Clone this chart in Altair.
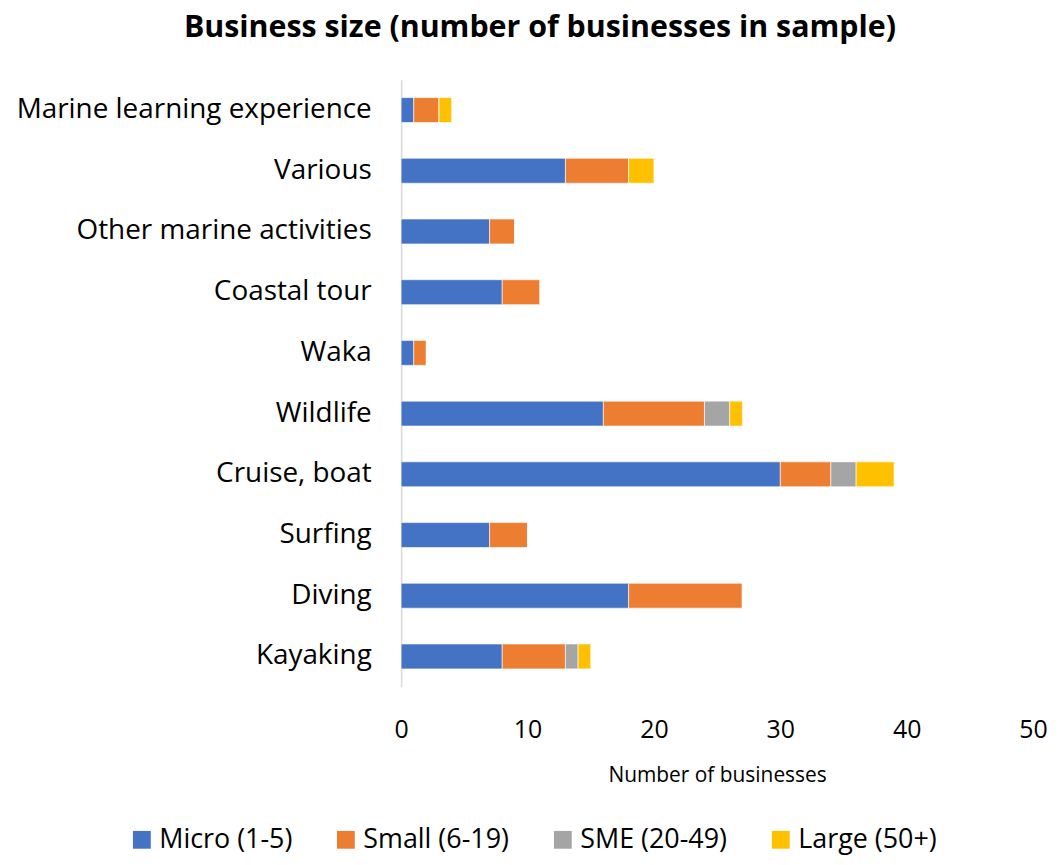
import altair as alt
import pandas as pd

categories = ["Marine learning experience", "Various", "Other marine activities",
              "Coastal tour", "Waka", "Wildlife", "Cruise, boat", "Surfing",
              "Diving", "Kayaking"]
sizes = ["Micro (1-5)", "Small (6-19)", "SME (20-49)", "Large (50+)"]
micro = [1, 13, 7, 8, 1, 16, 30, 7, 18, 8]
small = [2, 5, 2, 3, 1, 8, 4, 3, 9, 5]
sme = [0, 0, 0, 0, 0, 2, 2, 0, 0, 1]
large = [1, 2, 0, 0, 0, 1, 3, 0, 0, 1]
colors = ["#4472C4", "#ED7D31", "#A5A5A5", "#FFC000"]

rows = []
for series, name, k in [(micro, sizes[0], 0), (small, sizes[1], 1), (sme, sizes[2], 2), (large, sizes[3], 3)]:
    for c, v in zip(categories, series):
        rows.append({"Activity": c, "Size": name, "Count": v, "order": k})
df = pd.DataFrame(rows)

font = "Open Sans"

chart = alt.Chart(df).mark_bar(stroke="white", strokeWidth=0.6).encode(
    y=alt.Y("Activity:N", sort=categories,
            scale=alt.Scale(paddingInner=0.59, paddingOuter=0.295),
            axis=alt.Axis(title=None, labelFontSize=28, labelColor="#000000",
                          labelPadding=30, labelLimit=500, ticks=False,
                          domainColor="#D9D9D9", domainWidth=1.5,
                          labelFont=font)),
    x=alt.X("Count:Q", stack="zero",
            scale=alt.Scale(domain=[0, 50], nice=False),
            axis=alt.Axis(title="Number of businesses", values=[0, 10, 20, 30, 40, 50],
                          grid=False, domain=False, ticks=False,
                          labelFontSize=25, labelColor="#000000", labelPadding=31,
                          titleFontSize=21, titleFontWeight="normal", titleColor="#000000",
                          titlePadding=22, labelFont=font, titleFont=font,
                          labelOverlap=False, labelFlush=False)),
    color=alt.Color("Size:N", sort=sizes,
                    scale=alt.Scale(domain=sizes, range=colors),
                    legend=alt.Legend(title=None, orient="none", direction="horizontal",
                                      legendX=-274, legendY=750,
                                      symbolType="square", symbolSize=320,
                                      symbolStrokeWidth=0,
                                      labelFontSize=27, labelColor="#000000",
                                      labelFont=font, columnPadding=40,
                                      labelLimit=400)),
    order=alt.Order("order:Q"),
).properties(
    width=635, height=610,
    title=alt.TitleParams("Business size (number of businesses in sample)",
                          fontSize=30.5, fontWeight="bold", font=font, color="#000000",
                          anchor="middle", dx=-178, offset=36),
    autosize=alt.AutoSizeParams(type="none"),
    padding={"left": 395, "top": 70, "right": 18, "bottom": 176},
).configure_view(stroke=None)

chart.save("out.html", embed_options={"renderer": "svg", "actions": False})
